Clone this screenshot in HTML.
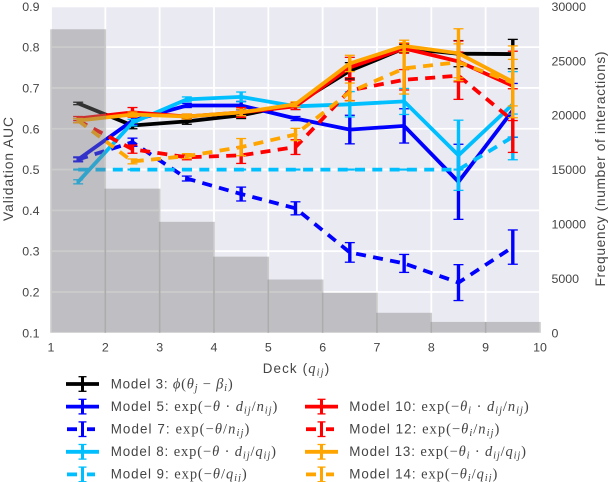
<!DOCTYPE html>
<html>
<head>
<meta charset="utf-8">
<style>
html,body{margin:0;padding:0;background:#fff;width:610px;height:482px;overflow:hidden}
svg{display:block}
text{font-family:"Liberation Sans",sans-serif;fill:#444;font-size:12.4px}
.lg{font-size:13.4px}
.m{font-family:"Liberation Serif",serif;font-size:14.5px}
.i{font-family:"Liberation Serif",serif;font-style:italic;font-size:14.5px}
.s{font-family:"Liberation Serif",serif;font-style:italic;font-size:10.5px}
</style>
</head>
<body>
<svg id="chart" xmlns="http://www.w3.org/2000/svg" width="610" height="482" viewBox="0 0 610 482">
  <rect x="51" y="6" width="489" height="327" fill="#eaeaf2"/>
  <g id="grid"></g>
  <g id="series"></g>
  <g id="bars"></g>
  <g id="ticks"></g>
  <text class="lg" x="262.7" y="373" textLength="66.5"><tspan>Deck (</tspan><tspan class="i">q</tspan><tspan class="s" dy="2.5">ij</tspan><tspan dy="-2.5">)</tspan></text>
  <text transform="translate(13 169) rotate(-90)" text-anchor="middle" textLength="104" style="font-size:13.8px">Validation AUC</text>
  <text transform="translate(605 169) rotate(-90)" text-anchor="middle" textLength="235" style="font-size:13.8px">Frequency (number of interactions)</text>
  <g id="legend-handles"></g>
  <g>
    <text class="lg" x="110.7" y="388.5" textLength="122">Model 3: <tspan class="i">ϕ</tspan><tspan class="m">(</tspan><tspan class="i">θ</tspan><tspan class="s" dy="2.5">j</tspan><tspan class="m" dy="-2.5"> − </tspan><tspan class="i">β</tspan><tspan class="s" dy="2.5">i</tspan><tspan class="m" dy="-2.5">)</tspan></text>
    <text class="lg" x="110.7" y="411" textLength="166.6">Model 5: <tspan class="m">exp(−</tspan><tspan class="i">θ</tspan><tspan class="m"> · </tspan><tspan class="i">d</tspan><tspan class="s" dy="2.5">ij</tspan><tspan class="m" dy="-2.5">/</tspan><tspan class="i">n</tspan><tspan class="s" dy="2.5">ij</tspan><tspan class="m" dy="-2.5">)</tspan></text>
    <text class="lg" x="110.7" y="433.5" textLength="138.6">Model 7: <tspan class="m">exp(−</tspan><tspan class="i">θ</tspan><tspan class="m">/</tspan><tspan class="i">n</tspan><tspan class="s" dy="2.5">ij</tspan><tspan class="m" dy="-2.5">)</tspan></text>
    <text class="lg" x="110.7" y="456" textLength="165.3">Model 8: <tspan class="m">exp(−</tspan><tspan class="i">θ</tspan><tspan class="m"> · </tspan><tspan class="i">d</tspan><tspan class="s" dy="2.5">ij</tspan><tspan class="m" dy="-2.5">/</tspan><tspan class="i">q</tspan><tspan class="s" dy="2.5">ij</tspan><tspan class="m" dy="-2.5">)</tspan></text>
    <text class="lg" x="110.7" y="478.5" textLength="136">Model 9: <tspan class="m">exp(−</tspan><tspan class="i">θ</tspan><tspan class="m">/</tspan><tspan class="i">q</tspan><tspan class="s" dy="2.5">ij</tspan><tspan class="m" dy="-2.5">)</tspan></text>
    <text class="lg" x="349.3" y="411" textLength="179.4">Model 10: <tspan class="m">exp(−</tspan><tspan class="i">θ</tspan><tspan class="s" dy="2.5">i</tspan><tspan class="m" dy="-2.5"> · </tspan><tspan class="i">d</tspan><tspan class="s" dy="2.5">ij</tspan><tspan class="m" dy="-2.5">/</tspan><tspan class="i">n</tspan><tspan class="s" dy="2.5">ij</tspan><tspan class="m" dy="-2.5">)</tspan></text>
    <text class="lg" x="349.3" y="433.5" textLength="150">Model 12: <tspan class="m">exp(−</tspan><tspan class="i">θ</tspan><tspan class="s" dy="2.5">i</tspan><tspan class="m" dy="-2.5">/</tspan><tspan class="i">n</tspan><tspan class="s" dy="2.5">ij</tspan><tspan class="m" dy="-2.5">)</tspan></text>
    <text class="lg" x="349.3" y="456" textLength="176.7">Model 13: <tspan class="m">exp(−</tspan><tspan class="i">θ</tspan><tspan class="s" dy="2.5">i</tspan><tspan class="m" dy="-2.5"> · </tspan><tspan class="i">d</tspan><tspan class="s" dy="2.5">ij</tspan><tspan class="m" dy="-2.5">/</tspan><tspan class="i">q</tspan><tspan class="s" dy="2.5">ij</tspan><tspan class="m" dy="-2.5">)</tspan></text>
    <text class="lg" x="349.3" y="478.5" textLength="148">Model 14: <tspan class="m">exp(−</tspan><tspan class="i">θ</tspan><tspan class="s" dy="2.5">i</tspan><tspan class="m" dy="-2.5">/</tspan><tspan class="i">q</tspan><tspan class="s" dy="2.5">ij</tspan><tspan class="m" dy="-2.5">)</tspan></text>
  </g>
</svg>
<script>
const deckCenters = [1.5, 2.5, 3.5, 4.5, 5.5, 6.5, 7.5, 8.5, 9.5];
const xTickLabels = ["1", "2", "3", "4", "5", "6", "7", "8", "9", "10"];
const aucTickLabels = ["0.1", "0.2", "0.3", "0.4", "0.5", "0.6", "0.7", "0.8", "0.9"];
const freqTickLabels = ["0", "5000", "10000", "15000", "20000", "25000", "30000"];
const frequencyValues = [27900, 13250, 10200, 7000, 4900, 3680, 1840, 1000, 1000];

const model3Values = [0.662, 0.608, 0.618, 0.633, 0.660, 0.742, 0.797, 0.784, 0.783];
const model3Errors = [0.003, 0.008, 0.007, 0.008, 0.005, 0.020, 0.010, 0.032, 0.036];
const model5Values = [0.525, 0.620, 0.657, 0.657, 0.625, 0.598, 0.607, 0.470, 0.645];
const model5Errors = [0.004, 0.010, 0.005, 0.010, 0.005, 0.035, 0.042, 0.092, 0.066];
const model7Values = [0.525, 0.567, 0.478, 0.440, 0.405, 0.297, 0.270, 0.223, 0.310];
const model7Errors = [0.006, 0.010, 0.006, 0.017, 0.016, 0.024, 0.022, 0.044, 0.042];
const model8Values = [0.470, 0.615, 0.672, 0.678, 0.655, 0.660, 0.667, 0.535, 0.660];
const model8Errors = [0.005, 0.008, 0.006, 0.012, 0.008, 0.031, 0.032, 0.086, 0.080];
const model9Values = [0.500, 0.500, 0.500, 0.500, 0.500, 0.500, 0.500, 0.500, 0.580];
const model9Errors = [0.001, 0.001, 0.001, 0.001, 0.001, 0.001, 0.001, 0.001, 0.056];
const model10Values = [0.625, 0.640, 0.630, 0.640, 0.655, 0.750, 0.797, 0.765, 0.705];
const model10Errors = [0.005, 0.012, 0.006, 0.012, 0.008, 0.025, 0.012, 0.050, 0.085];
const model12Values = [0.620, 0.550, 0.530, 0.535, 0.555, 0.694, 0.720, 0.730, 0.620];
const model12Errors = [0.005, 0.010, 0.006, 0.020, 0.018, 0.025, 0.025, 0.058, 0.078];
const model13Values = [0.620, 0.635, 0.630, 0.640, 0.660, 0.760, 0.803, 0.785, 0.715];
const model13Errors = [0.005, 0.006, 0.006, 0.008, 0.006, 0.020, 0.014, 0.060, 0.088];
const model14Values = [0.620, 0.520, 0.533, 0.555, 0.586, 0.690, 0.748, 0.763, 0.713];
const model14Errors = [0.005, 0.006, 0.006, 0.021, 0.015, 0.022, 0.063, 0.045, 0.057];

const NS = "http://www.w3.org/2000/svg";
const xScale = v => 51 + (v - 1) * 54.33;
const aucScale = v => 332.8 - (v - 0.1) * 408.1;
const freqScale = v => 332.8 - (v / 30000) * 326.4;

function make(parent, tag, attrs) {
  const el = document.createElementNS(NS, tag);
  for (const k in attrs) el.setAttribute(k, attrs[k]);
  parent.appendChild(el);
  return el;
}

const gridGroup = document.getElementById("grid");
xTickLabels.forEach(label => {
  const x = xScale(+label);
  const el = make(gridGroup, "line", {x1: x, x2: x, y1: 6, y2: 333, stroke: "#fff", "stroke-width": 1.8});
  
  
});
aucTickLabels.forEach(label => {
  const y = aucScale(+label);
  const el = make(gridGroup, "line", {x1: 51, x2: 540, y1: y, y2: y, stroke: "#fff", "stroke-width": 1.8});
  
  
});

const seriesList = [
  {name: "model-3", values: model3Values, errors: model3Errors, color: "#000000", dashed: false},
  {name: "model-5", values: model5Values, errors: model5Errors, color: "#0000ff", dashed: false},
  {name: "model-7", values: model7Values, errors: model7Errors, color: "#0000ff", dashed: true},
  {name: "model-8", values: model8Values, errors: model8Errors, color: "#00bfff", dashed: false},
  {name: "model-9", values: model9Values, errors: model9Errors, color: "#00bfff", dashed: true},
  {name: "model-10", values: model10Values, errors: model10Errors, color: "#ff0000", dashed: false},
  {name: "model-12", values: model12Values, errors: model12Errors, color: "#ff0000", dashed: true},
  {name: "model-13", values: model13Values, errors: model13Errors, color: "#ffa500", dashed: false},
  {name: "model-14", values: model14Values, errors: model14Errors, color: "#ffa500", dashed: true}
];

const seriesGroup = document.getElementById("series");
seriesList.forEach(s => {
  const g = make(seriesGroup, "g", {});
  
  
  const pts = s.values.map((v, i) => xScale(deckCenters[i]).toFixed(1) + "," + aucScale(v).toFixed(1)).join(" ");
  const attrs = {points: pts, fill: "none", stroke: s.color, "stroke-width": 3.8, "stroke-linejoin": "miter"};
  if (s.dashed) attrs["stroke-dasharray"] = "10 7.3";
  const line = make(g, "polyline", attrs);
  
  
  s.values.forEach((v, i) => {
    const x = xScale(deckCenters[i]);
    const top = aucScale(v + s.errors[i]);
    const bottom = aucScale(v - s.errors[i]);
    const bar = make(g, "line", {x1: x, x2: x, y1: top, y2: bottom, stroke: s.color, "stroke-width": 3.4});
    
    
    [top, bottom].forEach(y => {
      const cap = make(g, "line", {x1: x - 5, x2: x + 5, y1: y, y2: y, stroke: s.color, "stroke-width": 1.3});
      
      
    });
  });
});

const barGroup = document.getElementById("bars");
frequencyValues.forEach((f, i) => {
  const x0 = xScale(i + 1) - 0.8;
  const x1 = xScale(i + 2) + 0.8;
  const y = freqScale(f);
  const bar = make(barGroup, "rect", {x: x0, y: y, width: x1 - x0, height: freqScale(0) - y, fill: "#7d7d7d", "fill-opacity": 0.4});
  
  
});

const tickGroup = document.getElementById("ticks");
xTickLabels.forEach(label => {
  const t = make(tickGroup, "text", {x: xScale(+label), y: 351.5, "text-anchor": "middle"});
  t.textContent = label;
  
  
});
aucTickLabels.forEach(label => {
  const t = make(tickGroup, "text", {x: 39.5, y: aucScale(+label) + 4.5, "text-anchor": "end"});
  t.textContent = label;
  
  
});
freqTickLabels.forEach(label => {
  const t = make(tickGroup, "text", {x: 551.5, y: freqScale(+label) + 4.5, "text-anchor": "start"});
  t.textContent = label;
  
  
});

const legendRows = [
  {series: 0, column: 0, row: 0}, {series: 1, column: 0, row: 1}, {series: 2, column: 0, row: 2},
  {series: 3, column: 0, row: 3}, {series: 4, column: 0, row: 4}, {series: 5, column: 1, row: 1},
  {series: 6, column: 1, row: 2}, {series: 7, column: 1, row: 3}, {series: 8, column: 1, row: 4}
];
const legendGroup = document.getElementById("legend-handles");
legendRows.forEach(r => {
  const s = seriesList[r.series];
  const left = r.column === 0 ? 66 : 305;
  const y = 384 + r.row * 22.6;
  const g = make(legendGroup, "g", {});
  
  
  const c = left + 16.5;
  if (s.dashed) {
    make(g, "line", {x1: left + 1, x2: left + 11, y1: y, y2: y, stroke: s.color, "stroke-width": 3.8});
    make(g, "line", {x1: left + 21, x2: left + 29, y1: y, y2: y, stroke: s.color, "stroke-width": 3.8});
  } else {
    make(g, "line", {x1: left, x2: left + 33, y1: y, y2: y, stroke: s.color, "stroke-width": 3.8});
  }
  make(g, "line", {x1: c, x2: c, y1: y - 7.3, y2: y + 7.3, stroke: s.color, "stroke-width": 3});
  make(g, "line", {x1: c - 4, x2: c + 4, y1: y - 7.3, y2: y - 7.3, stroke: s.color, "stroke-width": 1.3});
  make(g, "line", {x1: c - 4, x2: c + 4, y1: y + 7.3, y2: y + 7.3, stroke: s.color, "stroke-width": 1.3});
});
</script>
</body>
</html>
